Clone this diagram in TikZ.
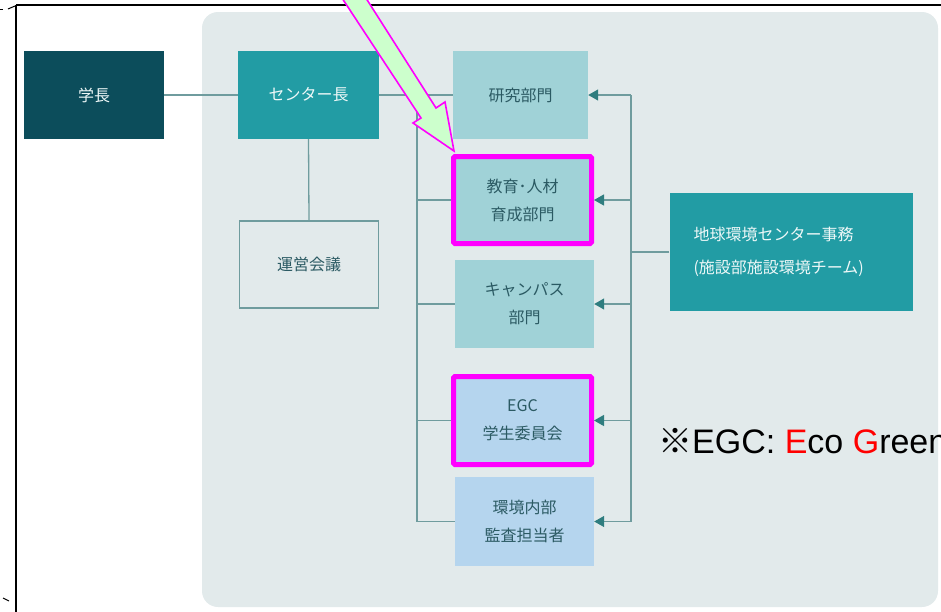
\documentclass[tikz,border=0pt]{standalone}
\usepackage{fontspec}
\setmainfont{Liberation Sans}
\newfontfamily\jp{Noto Sans CJK JP}
\usetikzlibrary{arrows.meta}
\definecolor{bgc}{HTML}{E2EAEB}
\definecolor{darkc}{HTML}{0C4D5B}
\definecolor{tealc}{HTML}{229CA4}
\definecolor{ltealc}{HTML}{A0D2D7}
\definecolor{lbluec}{HTML}{B5D5EE}
\definecolor{linec}{HTML}{6F9C9E}
\definecolor{arrc}{HTML}{2F7D7F}
\definecolor{txtc}{HTML}{2B5A63}
\definecolor{wtxt}{HTML}{EEF8F8}
\definecolor{magc}{HTML}{FF00FF}
\definecolor{grnc}{HTML}{CCFFCC}
\tikzset{
  basebox/.style={inner sep=0pt, align=center, font=\jp\fontsize{16}{28}\selectfont},
  darkbox/.style={basebox, fill=darkc, text=wtxt, minimum width=140pt, minimum height=88pt},
  tealbox/.style={basebox, fill=tealc, text=wtxt, minimum width=141pt, minimum height=88pt},
  outbox/.style={basebox, draw=linec, line width=1.3pt, fill=bgc, text=txtc, minimum width=139pt, minimum height=87pt},
  ltbox/.style={basebox, fill=ltealc, text=txtc, minimum width=139pt, minimum height=88pt},
  lbbox/.style={basebox, fill=lbluec, text=txtc, minimum width=139pt, minimum height=89pt},
  hilite/.style={draw=magc, line width=5pt, rounded corners=1.5pt},
  conn/.style={draw=linec, line width=1.3pt},
  arr/.style={conn, -{Triangle[length=10pt,width=11pt,color=arrc]}},
  bigarrow/.style={draw=magc, fill=grnc, line width=1.6pt, line join=miter},
  cropmark/.style={draw=black, line width=1pt}
}
\begin{document}
\begin{tikzpicture}[x=1pt, y=-1pt]
\useasboundingbox (0,0) rectangle (941,611);
\clip (0,0) rectangle (941,611);
% background panel
\fill[bgc, rounded corners=16pt] (202,12) rectangle (938,607);
% frame
\draw[black, line width=2pt] (16,5) -- (942,5);
\draw[black, line width=1.6pt] (16,5) -- (16,612);
\draw[cropmark] (0,9) -- (3,9);
\draw[cropmark] (8,9) -- (15,6);
\draw[cropmark] (3,598) -- (9,601);
% nodes
\node[darkbox] (gakucho) at (94,95) {学長};
\node[tealbox] (center) at (308.5,95) {センター長};
\node[outbox] (unei) at (309,264.5) {運営会議};
\node[ltbox, minimum width=135pt] (kenkyu) at (520.5,95) {研究部門};
\node[ltbox, hilite, minimum width=138pt, minimum height=87pt] (kyoiku) at (522.5,200) {教育･人材\\育成部門};
\node[ltbox] (campus) at (524.5,304) {キャンパス\\部門};
\node[lbbox, hilite, minimum width=138pt, minimum height=88pt] (egc) at (522.5,420.5) {EGC\\学生委員会};
\node[lbbox] (kansa) at (524.5,521.5) {環境内部\\監査担当者};
\node[basebox, fill=tealc, text=wtxt, align=left, text width=195pt, inner xsep=24pt,
      minimum height=118pt, font=\jp\fontsize{16}{33}\selectfont] (jimu) at (791,252)
      {地球環境センター事務\\(施設部施設環境チーム)};
% coordinates for buses
\coordinate (lbus) at (417,0);
\coordinate (rbus) at (631,0);
% connectors
\draw[conn] (gakucho.east) -- (center.west);
\draw[conn] (center.east) -- (kenkyu.west);
\draw[conn] (center.south) -- (unei.north);
\draw[conn] (center.east -| lbus) |- (kyoiku.west);
\draw[conn] (center.east -| lbus) |- (campus.west);
\draw[conn] (center.east -| lbus) |- (egc.west);
\draw[conn] (center.east -| lbus) |- (kansa.west);
\draw[conn] (kenkyu.east -| rbus) -- (kansa.east -| rbus);
\draw[conn] (jimu.west) -- (jimu.west -| rbus);
\draw[arr] (kenkyu.east -| rbus) -- (kenkyu.east);
\draw[arr] (kyoiku.east -| rbus) -- (kyoiku.east);
\draw[arr] (campus.east -| rbus) -- (campus.east);
\draw[arr] (egc.east -| rbus) -- (egc.east);
\draw[arr] (kansa.east -| rbus) -- (kansa.east);
% note
\node[anchor=base west, inner sep=0pt, font=\fontsize{34}{34}\selectfont] (note) at (658,453)
  {{\jp ※}EGC: \textcolor{red}{E}co \textcolor{red}{G}reen};
% big pointer arrow
\draw[bigarrow] (340,-5) -- (421,118) -- (413,123) -- (454,151) -- (445,102) -- (436,108) -- (364,-5) -- cycle;
\end{tikzpicture}
\end{document}
